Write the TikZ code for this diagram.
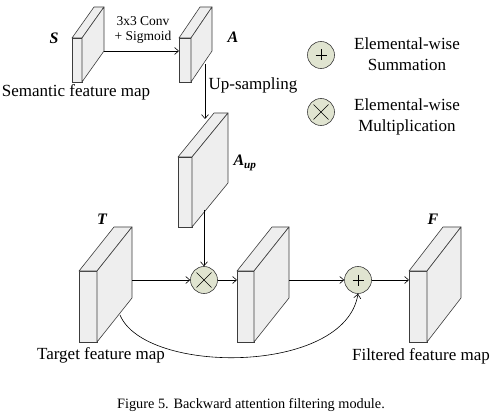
\documentclass[tikz,border=0pt]{standalone}
\usepackage{fontspec}
\setmainfont{Liberation Serif}
\usetikzlibrary{arrows.meta,calc}
\definecolor{facegray}{RGB}{238,238,238}
\definecolor{opfill}{RGB}{224,228,208}
\definecolor{edgegray}{RGB}{60,60,60}
\newcommand{\fmap}[7]{%
  \node[front, minimum width=#4pt, minimum height=#5pt, anchor=north west] (#1) at (#2,#3) {};
  \draw[face] (#1.north west) -- ++(#6,#7) -- ++(#4,0) -- (#1.north east) -- cycle;
  \draw[face] (#1.north east) -- ++(#6,#7) -- ++(0,#5) -- (#1.south east) -- cycle;
}
\tikzset{
  front/.style={draw=edgegray, fill=facegray, line width=0.6pt, inner sep=0pt, outer sep=0pt, rectangle},
  face/.style={draw=edgegray, fill=facegray, line width=0.6pt, line join=round},
  op/.style={circle, draw=edgegray, fill=opfill, line width=0.6pt, minimum size=27pt, inner sep=0pt},
  arr/.style={draw=black, line width=0.6pt, -{Straight Barb[length=4pt,width=7pt]}},
  sym/.style={draw=black, line width=0.6pt},
  big/.style={font=\fontsize{17}{21}\selectfont, inner sep=0pt, align=center},
  small/.style={font=\fontsize{13.5}{15}\selectfont, inner sep=0pt, align=center},
  captiontext/.style={font=\fontsize{14.3}{17}\selectfont, inner sep=0pt},
  maplabel/.style={font=\fontsize{16}{19}\selectfont\bfseries\itshape, inner sep=0pt}
}
\begin{document}
\begin{tikzpicture}[x=1pt,y=-1pt]
\useasboundingbox (0,0) rectangle (499,420);
% feature maps
\fmap{S}{72}{38}{10}{44}{22}{-31}
\fmap{A}{179}{38}{12}{44}{21}{-31}
\fmap{Aup}{178}{157}{14}{70}{36}{-44}
\fmap{T}{79}{271}{18}{71}{35}{-44}
\fmap{M}{237}{271}{17}{71}{35}{-44}
\fmap{F}{409}{271}{18}{71}{34}{-44}
% operators
\node[op] (mul) at (204,280) {};
\node[op] (add) at (358,280) {};
\node[op] (addL) at (321,55) {};
\node[op] (mulL) at (321,112) {};
\foreach \n in {add,addL}{
  \draw[sym] ($(\n.center)+(-5.5,0)$) -- ($(\n.center)+(5.5,0)$);
  \draw[sym] ($(\n.center)+(0,-5.5)$) -- ($(\n.center)+(0,5.5)$);
}
\foreach \n in {mul,mulL}{
  \draw[sym] ($(\n.center)+(-7.5,-7.5)$) -- ($(\n.center)+(7.5,7.5)$);
  \draw[sym] ($(\n.center)+(-7.5,7.5)$) -- ($(\n.center)+(7.5,-7.5)$);
}
% connectors
\coordinate (Sout) at (104,51);
\draw[arr] (Sout) -- (Sout -| A.west);
\coordinate (Aout) at (205,64);
\coordinate (Aupin) at (205,119);
\draw[arr] (Aout) -- (Aupin);
\coordinate (Aupout) at (204,210);
\draw[arr] (Aupout) -- (mul.north);
\coordinate (Tout) at (132,280);
\draw[arr] (Tout) -- (mul.west);
\draw[arr] (mul.east) -- (mul.east -| M.west);
\coordinate (Mout) at (289,280);
\draw[arr] (Mout) -- (add.west);
\draw[arr] (add.east) -- (add.east -| F.west);
\coordinate (Tc) at (120,315);
\draw[arr] (Tc) .. controls (145,375) and (345,375) .. (add.south);
% labels
\node[maplabel] (Slab) at (54,38) {S};
\node[maplabel] (Alab) at (233,37) {A};
\node[maplabel] (Auplab) at (245,163) {A\textsubscript{up}};
\node[maplabel] (Tlab) at (102,219) {T};
\node[maplabel] (Flab) at (433,219) {F};
\node[small] (conv) at (143,30) {3x3 Conv\\+ Sigmoid};
\node[big] (sem) at (76,92) {Semantic feature map};
\node[big] (ups) at (253,85) {Up-sampling};
\node[big] (legS) at (407,54) {Elemental-wise\\Summation};
\node[big] (legM) at (407,117) {Elemental-wise\\Multiplication};
\node[big] (tgt) at (101,355) {Target feature map};
\node[big] (flt) at (421,356) {Filtered feature map};
\node[captiontext] (caption) at (251,405) {Figure 5. Backward attention filtering module.};
\end{tikzpicture}
\end{document}
